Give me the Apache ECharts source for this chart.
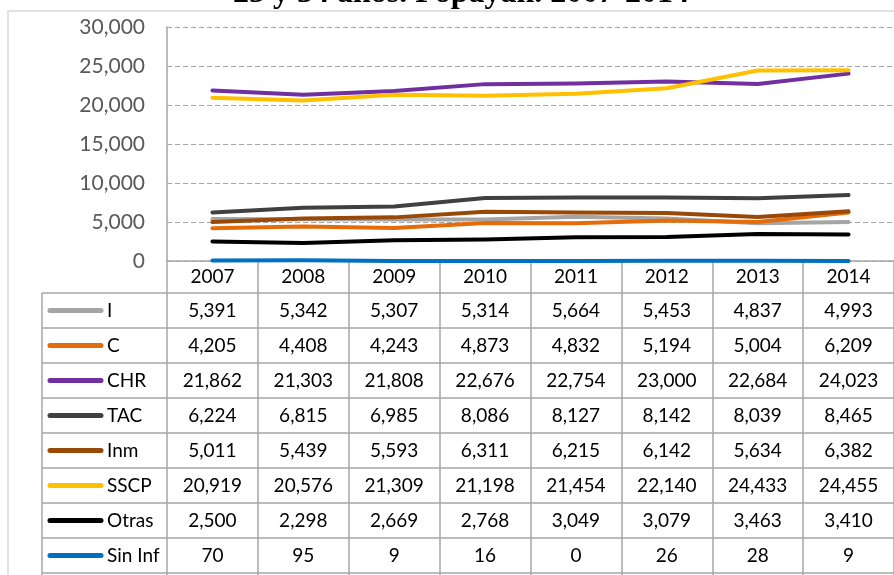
<!DOCTYPE html>
<html><head><meta charset="utf-8">
<script src="https://cdn.jsdelivr.net/npm/echarts@6/dist/echarts.min.js"></script>
<style>html,body{margin:0;padding:0;background:#fff}#c{width:894px;height:575px}</style>
</head><body><div id="c"></div>
<script>
const years = ['2007','2008','2009','2010','2011','2012','2013','2014'];
const seriesNames = ['I','C','CHR','TAC','Inm','SSCP','Otras','Sin Inf'];
const I_vals      = [5391, 5342, 5307, 5314, 5664, 5453, 4837, 4993];
const C_vals      = [4205, 4408, 4243, 4873, 4832, 5194, 5004, 6209];
const CHR_vals    = [21862, 21303, 21808, 22676, 22754, 23000, 22684, 24023];
const TAC_vals    = [6224, 6815, 6985, 8086, 8127, 8142, 8039, 8465];
const Inm_vals    = [5011, 5439, 5593, 6311, 6215, 6142, 5634, 6382];
const SSCP_vals   = [20919, 20576, 21309, 21198, 21454, 22140, 24433, 24455];
const Otras_vals  = [2500, 2298, 2669, 2768, 3049, 3079, 3463, 3410];
const SinInf_vals = [70, 95, 9, 16, 0, 26, 28, 9];
const yTicks = [0, 5000, 10000, 15000, 20000, 25000, 30000];
const titleText = '25 y 34 años. Popayán. 2007-2014';

const rows = [I_vals, C_vals, CHR_vals, TAC_vals, Inm_vals, SSCP_vals, Otras_vals, SinInf_vals];
const colors = ['#A5A5A5','#E46C0A','#7030A0','#404040','#984807','#FFC000','#000000','#0070C0'];
const fmt = v => Number(v).toLocaleString('en-US');
const FONT = 'Lato';
const TFS = 19;
const axisY = 261, tableTop = 293, rowH = 35;
const gridCol = '#A6A6A6';

const xAxes = [{
  type:'category', data: years, gridIndex:0, position:'bottom', boundaryGap:true,
  axisLine:{show:true, lineStyle:{color:gridCol, width:1.5}},
  axisTick:{show:true, interval:0, length:320, lineStyle:{color:gridCol, width:1.5}},
  axisLabel:{interval:0, margin:16, verticalAlign:'middle', fontSize:TFS, color:'#000', fontFamily:FONT},
  splitLine:{show:false}
}];
rows.forEach((r,k)=>{
  xAxes.push({
    type:'category', data: years, gridIndex:0, position:'bottom',
    offset: tableTop + rowH*k + rowH/2 - axisY,
    axisLine:{show:false}, axisTick:{show:false}, splitLine:{show:false},
    axisLabel:{interval:0, margin:0, verticalAlign:'middle', fontSize:TFS, color:'#000', fontFamily:FONT,
      formatter:(v,i)=>fmt(r[i])}
  });
});

const graphics = [
  {type:'rect', shape:{x:8, y:11, width:1000, height:1000}, style:{fill:'none', stroke:'#D9D9D9', lineWidth:1.5}, silent:true},
  {type:'text', x:461, y:-6, style:{text:titleText, font:'bold 32px "Liberation Serif"', fill:'#000', textAlign:'center', textVerticalAlign:'middle'}},
  {type:'line', shape:{x1:42, y1:tableTop, x2:42, y2:580}, style:{stroke:gridCol, lineWidth:1.5}}
];
for (let k=0;k<=8;k++){
  graphics.push({type:'line', shape:{x1:42, y1:tableTop+rowH*k, x2:900, y2:tableTop+rowH*k}, style:{stroke:gridCol, lineWidth:1.5}});
}
seriesNames.forEach((n,k)=>{
  const cy = tableTop + rowH*k + rowH/2;
  graphics.push({type:'line', shape:{x1:50, y1:cy, x2:101, y2:cy}, style:{stroke:colors[k], lineWidth:5, lineCap:'round'}});
  graphics.push({type:'text', x:107, y:cy, style:{text:n, font:TFS+'px '+FONT, fill:'#000', textAlign:'left', textVerticalAlign:'middle'}});
});

const chart = echarts.init(document.getElementById('c'), null, {renderer:'canvas'});
chart.setOption({
  backgroundColor:'#fff',
  animation:false,
  grid:{left:167, top:27, width:733, height:234, containLabel:false},
  xAxis: xAxes,
  yAxis:{type:'value', min:yTicks[0], max:yTicks[yTicks.length-1], interval:yTicks[1]-yTicks[0],
    axisLine:{show:true, lineStyle:{color:gridCol, width:1.5}},
    axisTick:{show:false},
    axisLabel:{margin:22, fontSize:21, color:'#595959', fontFamily:FONT, formatter:v=>fmt(v)},
    splitLine:{show:true, lineStyle:{color:gridCol, type:[5,3], width:1.2}}
  },
  series: rows.map((r,k)=>({
    name: seriesNames[k], type:'line', data:r, xAxisIndex:0, yAxisIndex:0,
    showSymbol:false, symbol:'none',
    lineStyle:{color:colors[k], width:4, cap:'round', join:'round'},
    itemStyle:{color:colors[k]}, z:2+k
  })),
  graphic: graphics
});
</script></body></html>
